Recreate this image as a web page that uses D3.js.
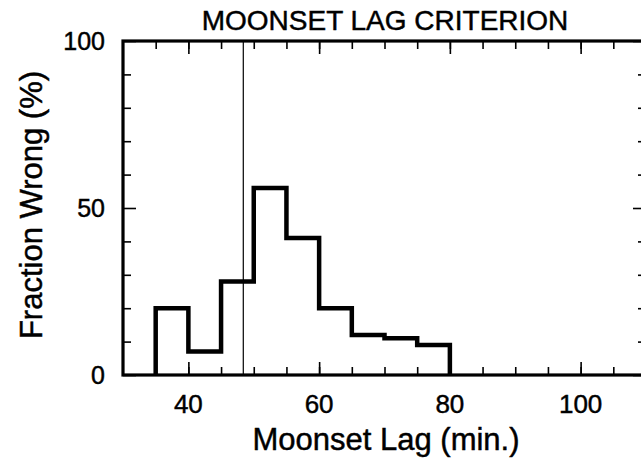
<!DOCTYPE html>
<html>
<head>
<meta charset="utf-8">
<script src="https://cdn.jsdelivr.net/npm/d3@7"></script>
<style>
  body { margin: 0; background: #fff; }
  svg { display: block; }
  text { font-family: "Liberation Sans", Arial, Helvetica, sans-serif; fill: #000; stroke: #000; stroke-width: 0.45px; }
</style>
</head>
<body>
<svg id="chart"></svg>
<script>
// histogram bins (left edges, minutes) and fraction wrong (%)
const binStarts = [35, 40, 45, 50, 55, 60, 65, 70, 75];
const binEnd = 80;
const fractionWrong = [20, 7, 28, 56, 41, 20, 12, 11, 9];

// thin vertical line: the criterion
const criterionLag = 48.4;

// axis ticks
const xMinorTicks = [35, 40, 45, 50, 55, 60, 65, 70, 75, 80, 85, 90, 95, 100, 105];
const xMajorTicks = [40, 60, 80, 100];
const yMinorTicks = [10, 20, 30, 40, 60, 70, 80, 90];
const yMajorTicks = [0, 50, 100];

const W = 641, H = 461;
const margin = { top: 41, right: -5, bottom: 86, left: 123 };

const svg = d3.select("#chart").attr("width", W).attr("height", H);

const x = d3.scaleLinear().domain([30, 110]).range([margin.left, W - margin.right]);
const y = d3.scaleLinear().domain([0, 100]).range([H - margin.bottom, margin.top]);

// ===== ticks (all pointing inward) =====
const noLabel = () => "";
function tickGroup(axis, transform) {
  const g = svg.append("g").attr("transform", transform).call(axis);
  g.select(".domain").remove();
  g.selectAll(".tick line").attr("stroke", "#000").attr("stroke-width", 1.6);
  return g;
}
const atBottom = `translate(0,${y(0)})`, atTop = `translate(0,${y(100)})`;
const atLeft = `translate(${x(30)},0)`, atRight = `translate(${x(110)},0)`;

tickGroup(d3.axisBottom(x).tickValues(xMinorTicks).tickSize(-8).tickFormat(noLabel), atBottom);
tickGroup(d3.axisTop(x).tickValues(xMinorTicks).tickSize(-8).tickFormat(noLabel), atTop);
tickGroup(d3.axisBottom(x).tickValues(xMajorTicks).tickSize(-13).tickFormat(noLabel), atBottom);
tickGroup(d3.axisTop(x).tickValues(xMajorTicks).tickSize(-13).tickFormat(noLabel), atTop);
tickGroup(d3.axisLeft(y).tickValues(yMinorTicks).tickSize(-8).tickFormat(noLabel), atLeft);
tickGroup(d3.axisRight(y).tickValues(yMinorTicks).tickSize(-8).tickFormat(noLabel), atRight);
tickGroup(d3.axisLeft(y).tickValues(yMajorTicks).tickSize(-13).tickFormat(noLabel), atLeft);
tickGroup(d3.axisRight(y).tickValues(yMajorTicks).tickSize(-13).tickFormat(noLabel), atRight);

// tick labels
svg.append("g").selectAll("text").data(xMajorTicks).join("text")
  .attr("x", d => x(d)).attr("y", y(0) + 38)
  .attr("text-anchor", "middle").style("font-size", "26px")
  .text(d => d);

svg.append("g").selectAll("text").data(yMajorTicks).join("text")
  .attr("x", 105).attr("y", d => y(d) + 9)
  .attr("text-anchor", "end").style("font-size", "25px")
  .text(d => d);

// ===== criterion line =====
svg.append("line")
  .attr("x1", x(criterionLag)).attr("x2", x(criterionLag))
  .attr("y1", y(0)).attr("y2", y(100))
  .attr("stroke", "#000").attr("stroke-width", 1.2);

// ===== histogram outline =====
const pts = [[binStarts[0], 0]].concat(binStarts.map((b, i) => [b, fractionWrong[i]]), [[binEnd, 0]]);
const step = d3.line().x(d => x(d[0])).y(d => y(d[1])).curve(d3.curveStepAfter);
svg.append("path").attr("d", step(pts))
  .attr("fill", "none").attr("stroke", "#000").attr("stroke-width", 4.5)
  .attr("stroke-linejoin", "miter");

// ===== frame =====
svg.append("rect")
  .attr("x", x(30)).attr("y", y(100))
  .attr("width", x(110) - x(30)).attr("height", y(0) - y(100))
  .attr("fill", "none").attr("stroke", "#000").attr("stroke-width", 3.2);

// ===== titles =====
svg.append("text").attr("x", 385).attr("y", 30)
  .attr("text-anchor", "middle").style("font-size", "28px")
  .text("MOONSET LAG CRITERION");

svg.append("text").attr("x", 386).attr("y", 450)
  .attr("text-anchor", "middle").style("font-size", "31px")
  .text("Moonset Lag (min.)");

svg.append("text")
  .attr("transform", `translate(42,205) rotate(-90)`)
  .attr("text-anchor", "middle").style("font-size", "31px")
  .text("Fraction Wrong (%)");
</script>
</body>
</html>
